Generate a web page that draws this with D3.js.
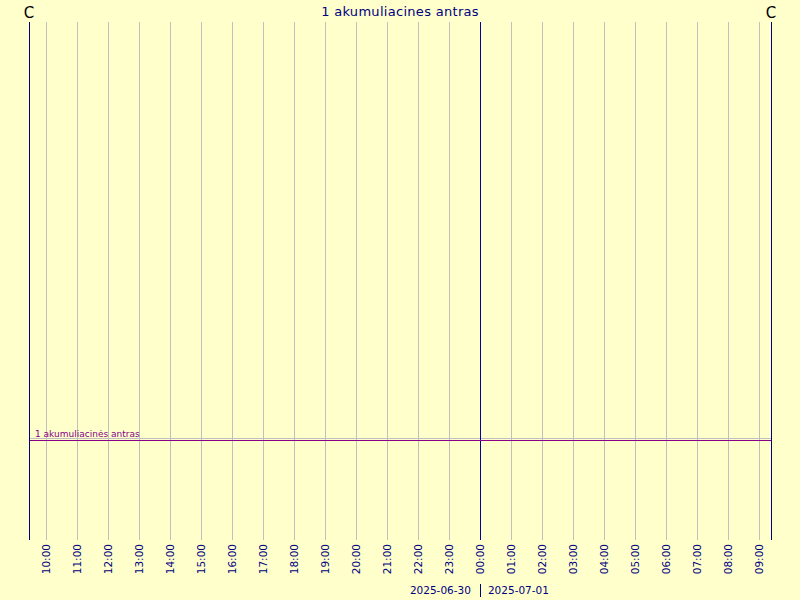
<!DOCTYPE html>
<html><head><meta charset="utf-8">
<script src="https://cdn.jsdelivr.net/npm/d3@7"></script>
<style>body{margin:0;background:#ffffcc}svg{display:block}</style>
</head><body>
<script>
const title = "1 akumuliacines antras";
const seriesName = "1 akumuliacinės antras";
const times = ["2025-06-30T09:27:00Z","2025-06-30T15:00:00Z","2025-06-30T21:00:00Z","2025-07-01T03:00:00Z","2025-07-01T09:23:30Z"];
const values = [-0.02,-0.02,-0.02,-0.02,-0.02];
const yTicks = [0];
const dateLabels = ["2025-06-30","2025-07-01"];
const domainStart = "2025-06-30T09:27:00Z", domainEnd = "2025-07-01T09:23:30Z";

const W=800,H=600, L=29, R=771, T=22, B=540;
const svg=d3.select("body").append("svg").attr("width",W).attr("height",H);
svg.append("rect").attr("width",W).attr("height",H).attr("fill","#ffffcc");
const x=d3.scaleUtc().domain([new Date(domainStart),new Date(domainEnd)]).range([L,R]);
const y=d3.scaleLinear().domain([-1,4.08]).range([B,T]);
const hours=x.ticks(d3.utcHour.every(1));
const font="DejaVu Sans";
svg.append("g").selectAll("line").data(hours.filter(d=>d.getUTCHours()!==0)).join("line")
 .attr("x1",d=>Math.round(x(d))+0.5).attr("x2",d=>Math.round(x(d))+0.5).attr("y1",T).attr("y2",B)
 .attr("stroke","#c0c0c0").attr("stroke-width",1);
svg.append("g").selectAll("line").data(yTicks).join("line")
 .attr("x1",L).attr("x2",R).attr("y1",d=>Math.round(y(d))+0.5).attr("y2",d=>Math.round(y(d))+0.5)
 .attr("stroke","#c0c0c0");
svg.append("g").selectAll("line").data(hours.filter(d=>d.getUTCHours()===0)).join("line")
 .attr("x1",d=>Math.round(x(d))+0.5).attr("x2",d=>Math.round(x(d))+0.5).attr("y1",T).attr("y2",B)
 .attr("stroke","#0000b0");
const pts=times.map((t,i)=>[new Date(t),values[i]]);
svg.append("path").datum(pts).attr("fill","none").attr("stroke","#880088").attr("stroke-width",1.2)
 .attr("d",d3.line().x(d=>x(d[0])).y(d=>Math.round(y(d[1]))+0.5));
svg.append("text").attr("x",L+6).attr("y",y(values[0])-3).attr("font-family",font).attr("font-size",9)
 .attr("fill","#880088").text(seriesName);
[L,R].forEach(p=>svg.append("line").attr("x1",p+0.5).attr("x2",p+0.5).attr("y1",T).attr("y2",B)
 .attr("stroke","#000080").attr("stroke-width",1));
svg.append("g").selectAll("text").data(hours).join("text")
 .attr("transform",d=>`translate(${Math.round(x(d))+0.5},544) rotate(-90)`)
 .attr("text-anchor","end").attr("dy","0.35em").attr("font-family",font).attr("font-size",10.5)
 .attr("fill","#000080").text(d=>d3.utcFormat("%H:%M")(d));
const mid=x(hours.find(d=>d.getUTCHours()===0));
svg.append("text").attr("x",mid-9).attr("y",594).attr("text-anchor","end").attr("font-family",font)
 .attr("font-size",10.5).attr("fill","#000080").text(dateLabels[0]);
svg.append("text").attr("x",mid+8).attr("y",594).attr("text-anchor","start").attr("font-family",font)
 .attr("font-size",10.5).attr("fill","#000080").text(dateLabels[1]);
svg.append("line").attr("x1",Math.round(mid)+0.5).attr("x2",Math.round(mid)+0.5).attr("y1",584).attr("y2",597).attr("stroke","#000080");
svg.append("text").attr("x",400).attr("y",16).attr("text-anchor","middle").attr("font-family",font)
 .attr("font-size",13).attr("letter-spacing",0.3).attr("fill","#000080").text(title);
["C","C"].forEach((c,i)=>svg.append("text").attr("x",i?R:L).attr("y",18).attr("text-anchor","middle")
 .attr("font-family",font).attr("font-size",15).attr("fill","#000").text(c));
</script>
</body></html>
